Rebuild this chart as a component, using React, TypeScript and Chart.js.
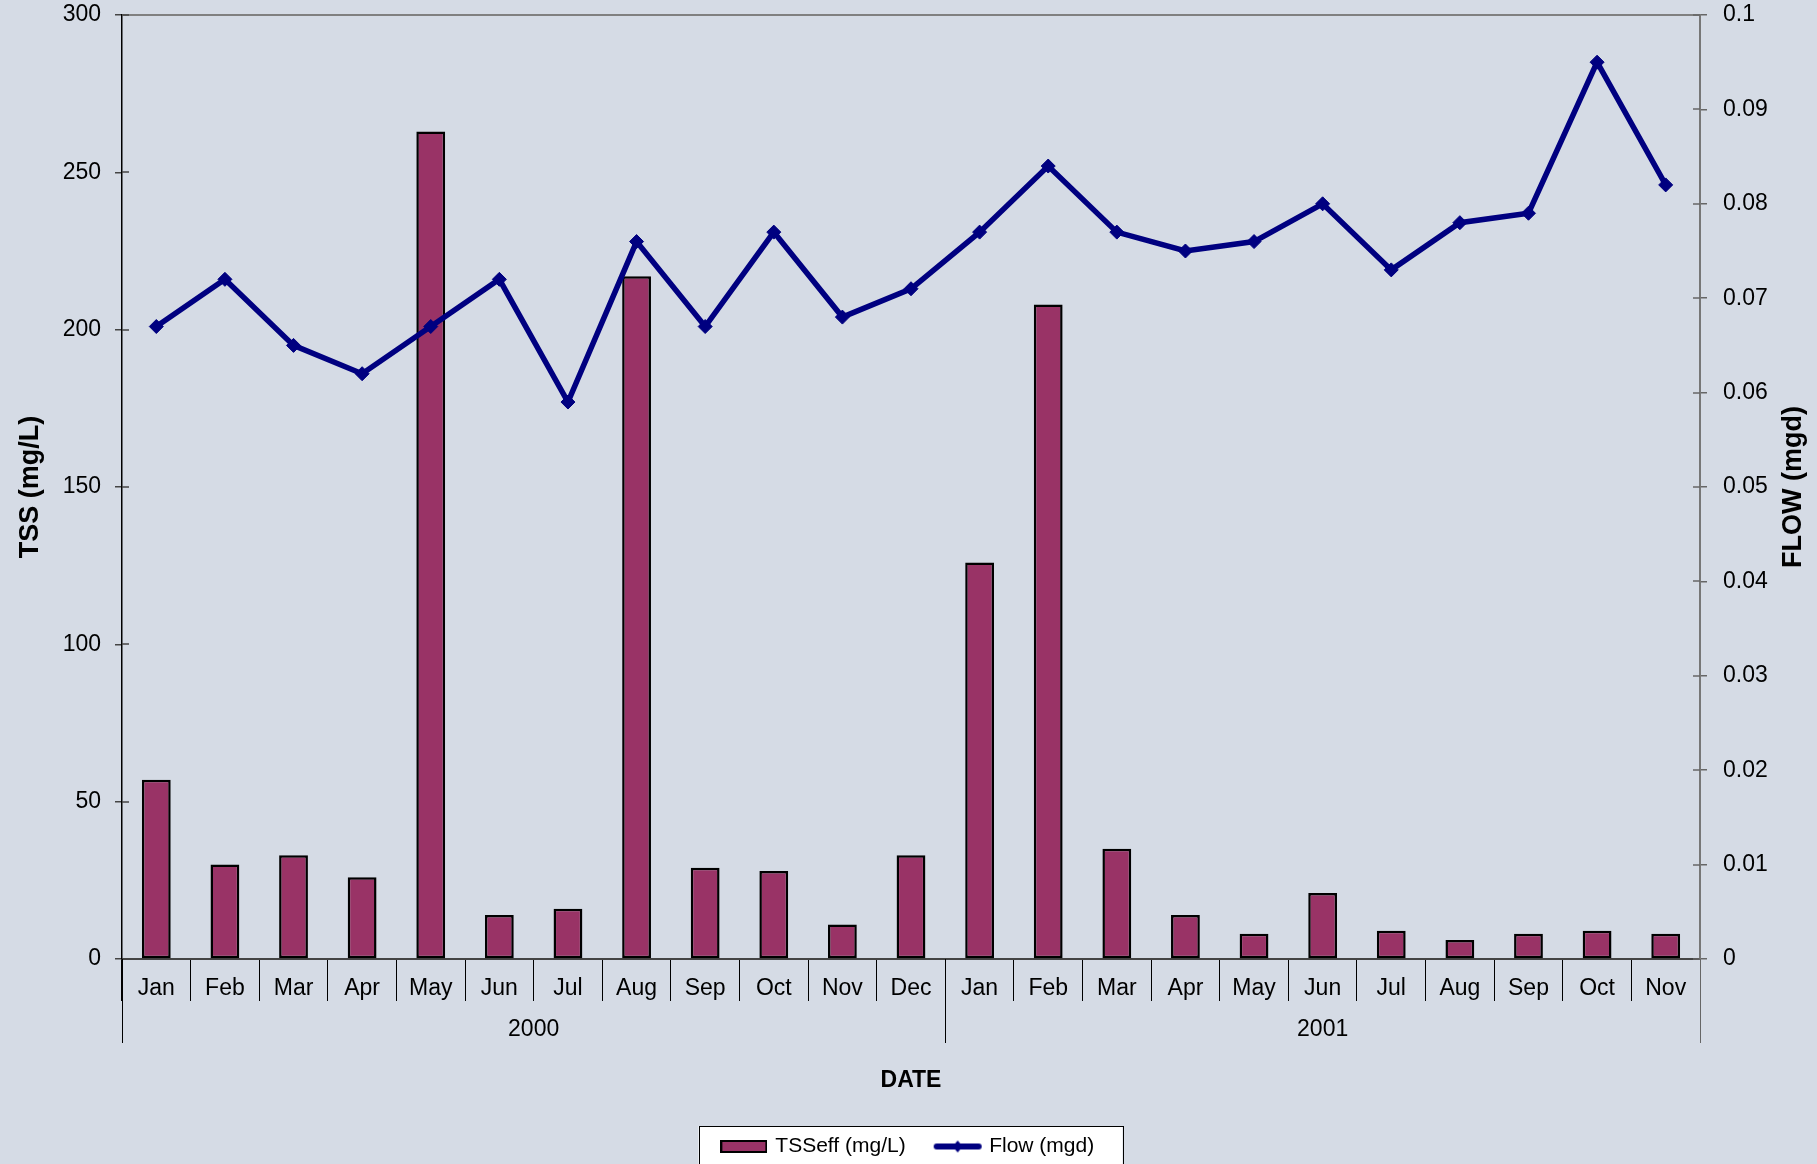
import React, { useEffect, useRef } from 'react';
import { Chart, registerables } from 'chart.js';

Chart.register(...registerables);

// ---- data ----
const months = ['Jan', 'Feb', 'Mar', 'Apr', 'May', 'Jun', 'Jul', 'Aug', 'Sep', 'Oct', 'Nov', 'Dec',
  'Jan', 'Feb', 'Mar', 'Apr', 'May', 'Jun', 'Jul', 'Aug', 'Sep', 'Oct', 'Nov'];
const yearLabels = ['2000', '2001'];
const yearSpans = [12, 11];
const tssEff = [57, 30, 33, 26, 263, 14, 16, 217, 29, 28, 11, 33, 126, 208, 35, 14, 8, 21, 9, 6, 8, 9, 8];
const flowMgd = [0.067, 0.072, 0.065, 0.062, 0.067, 0.072, 0.059, 0.076, 0.067, 0.077, 0.068, 0.071,
  0.077, 0.084, 0.077, 0.075, 0.076, 0.080, 0.073, 0.078, 0.079, 0.095, 0.082];
const tssLabel = 'TSSeff (mg/L)';
const flowLabel = 'Flow (mgd)';

// ---- style ----
const FONT = "'Liberation Sans', Arial, Helvetica, sans-serif";
const BG = '#D5DBE5';
const PLUM = '#993366';
const NAVY = '#000080';

function makeBarIcon() {
  const c = document.createElement('canvas');
  c.width = 47; c.height = 13;
  const g = c.getContext('2d')!;
  g.fillStyle = PLUM;
  g.fillRect(1, 1, 45, 11);
  g.strokeStyle = '#000';
  g.lineWidth = 2;
  g.strokeRect(1, 1, 45, 11);
  return c;
}

function makeLineIcon() {
  const c = document.createElement('canvas');
  c.width = 50; c.height = 16;
  const g = c.getContext('2d')!;
  g.strokeStyle = NAVY;
  g.lineWidth = 6;
  g.lineCap = 'round';
  g.beginPath();
  g.moveTo(4, 8); g.lineTo(46, 8); g.stroke();
  g.fillStyle = NAVY;
  g.beginPath();
  g.moveTo(25, 2); g.lineTo(30, 8); g.lineTo(25, 14); g.lineTo(20, 8); g.closePath(); g.fill();
  return c;
}

const decorPlugin = {
  id: 'decor',
  beforeDraw(chart: any) {
    const { ctx, width, height } = chart;
    ctx.save();
    ctx.fillStyle = BG;
    ctx.fillRect(0, 0, width, height);
    const lg = chart.legend;
    if (lg && lg.legendHitBoxes && lg.legendHitBoxes.length) {
      const hb = lg.legendHitBoxes;
      const l = hb[0].left;
      const r = hb[hb.length - 1].left + hb[hb.length - 1].width;
      const cx = (l + r) / 2 + 2;
      const w = 424;
      const top = hb[0].top - 10;
      ctx.fillStyle = '#FFFFFF';
      ctx.fillRect(cx - w / 2, top, w, 80);
      ctx.strokeStyle = '#000';
      ctx.lineWidth = 1;
      ctx.strokeRect(Math.round(cx - w / 2) + 0.5, Math.round(top) + 0.5, w, 80);
    }
    ctx.restore();
  },
  afterDraw(chart: any) {
    const { ctx, chartArea } = chart;
    const xs = chart.scales.x;
    const ys = chart.scales.y;
    const y1 = chart.scales.y1;
    ctx.save();
    // top border of plot area
    ctx.strokeStyle = '#808080';
    ctx.lineWidth = 2;
    ctx.beginPath();
    ctx.moveTo(chartArea.left, chartArea.top);
    ctx.lineTo(chartArea.right, chartArea.top);
    ctx.stroke();
    // inner halves of the y tick marks
    ctx.lineWidth = 1.5;
    ctx.strokeStyle = '#444';
    ys.ticks.forEach((t: any) => {
      const py = Math.round(ys.getPixelForValue(t.value));
      ctx.beginPath();
      ctx.moveTo(chartArea.left, py);
      ctx.lineTo(chartArea.left + 7, py);
      ctx.stroke();
    });
    ctx.strokeStyle = '#666';
    y1.ticks.forEach((t: any) => {
      const py = Math.round(y1.getPixelForValue(t.value));
      ctx.beginPath();
      ctx.moveTo(chartArea.right - 7, py);
      ctx.lineTo(chartArea.right, py);
      ctx.stroke();
    });
    // year group separators and labels
    const half = (xs.getPixelForValue(1) - xs.getPixelForValue(0)) / 2;
    let start = 0;
    const bounds: number[] = [chartArea.left];
    ctx.fillStyle = '#000';
    ctx.font = `23px ${FONT}`;
    ctx.textAlign = 'center';
    ctx.textBaseline = 'middle';
    yearLabels.forEach((lab, i) => {
      const end = start + yearSpans[i] - 1;
      const cx = (xs.getPixelForValue(start) + xs.getPixelForValue(end)) / 2;
      ctx.fillText(lab, cx, chartArea.bottom + 71);
      bounds.push(xs.getPixelForValue(end) + half);
      start = end + 1;
    });
    ctx.lineWidth = 1;
    bounds.forEach((bx, i) => {
      ctx.strokeStyle = i === bounds.length - 1 ? '#666' : '#000';
      const px = Math.round(bx) + 0.5;
      ctx.beginPath();
      ctx.moveTo(px, chartArea.bottom);
      ctx.lineTo(px, chartArea.bottom + 84);
      ctx.stroke();
    });
    // right axis title (reads bottom to top)
    ctx.translate(1794, (chartArea.top + chartArea.bottom) / 2);
    ctx.rotate(-Math.PI / 2);
    ctx.font = `bold 27px ${FONT}`;
    ctx.fillText('FLOW (mgd)', 0, 0);
    ctx.restore();
  },
};

export default function App() {
  const ref = useRef<HTMLCanvasElement | null>(null);

  useEffect(() => {
    document.body.style.margin = '0';
    document.body.style.overflow = 'hidden';
    document.body.style.background = BG;
    const canvas = ref.current;
    if (!canvas) return;
    const barIcon = makeBarIcon();
    const lineIcon = makeLineIcon();

    const chart = new Chart(canvas, {
      type: 'bar',
      data: {
        labels: months,
        datasets: [
          {
            type: 'line',
            label: flowLabel,
            data: flowMgd,
            yAxisID: 'y1',
            borderColor: NAVY,
            backgroundColor: NAVY,
            borderWidth: 5.5,
            pointStyle: 'rectRot',
            pointRadius: 7,
            pointBackgroundColor: NAVY,
            pointBorderColor: NAVY,
            pointBorderWidth: 1,
            tension: 0,
            order: 0,
          } as any,
          {
            type: 'bar',
            label: tssLabel,
            data: tssEff,
            yAxisID: 'y',
            backgroundColor: PLUM,
            borderColor: '#000',
            borderWidth: 2.5,
            borderSkipped: false,
            barPercentage: 0.42,
            categoryPercentage: 1,
            order: 1,
          } as any,
        ],
      },
      options: {
        animation: false,
        responsive: true,
        maintainAspectRatio: false,
        devicePixelRatio: 1,
        events: [],
        layout: { padding: { top: 15, left: 0, right: 0, bottom: 0 } },
        plugins: {
          tooltip: { enabled: false },
          title: { display: false },
          legend: {
            display: true,
            position: 'bottom',
            labels: {
              usePointStyle: true,
              pointStyleWidth: 42,
              padding: 31,
              color: '#000',
              font: { size: 21, family: FONT },
              generateLabels: () => [
                { text: tssLabel, pointStyle: barIcon, fillStyle: PLUM, strokeStyle: '#000', lineWidth: 0, hidden: false, datasetIndex: 1, fontColor: '#000' } as any,
                { text: flowLabel, pointStyle: lineIcon, fillStyle: NAVY, strokeStyle: NAVY, lineWidth: 0, hidden: false, datasetIndex: 0, fontColor: '#000' } as any,
              ],
            },
          },
        },
        scales: {
          x: {
            type: 'category',
            offset: true,
            grid: {
              display: true,
              offset: true,
              drawOnChartArea: false,
              drawTicks: true,
              tickLength: 42,
              color: '#000',
              lineWidth: 1,
            },
            border: { display: true, color: '#444', width: 2 },
            ticks: {
              font: { size: 23, family: FONT },
              color: '#000',
              padding: -26,
              maxRotation: 0,
              autoSkip: false,
            },
            title: {
              display: true,
              text: 'DATE',
              color: '#000',
              font: { size: 23, weight: 'bold', family: FONT },
              padding: { top: 0, bottom: 11 },
            },
            afterFit: (s: any) => { s.height = 146; s.paddingLeft = 0; s.paddingRight = 0; },
          },
          y: {
            type: 'linear',
            position: 'left',
            min: 0,
            max: 300,
            ticks: {
              stepSize: 50,
              color: '#000',
              padding: 14,
              font: { size: 23, family: FONT },
            },
            grid: { drawOnChartArea: false, drawTicks: true, tickLength: 7, color: '#444', lineWidth: 1.5 },
            border: { display: true, color: '#000', width: 1.5 },
            title: {
              display: true,
              text: 'TSS (mg/L)',
              color: '#000',
              font: { size: 27, weight: 'bold', family: FONT },
              padding: { top: 14, bottom: 0 },
            },
            afterFit: (s: any) => { s.width = 122; s.paddingTop = 0; s.paddingBottom = 0; },
          },
          y1: {
            type: 'linear',
            position: 'right',
            min: 0,
            max: 0.1,
            ticks: {
              stepSize: 0.01,
              color: '#000',
              padding: 16,
              font: { size: 23, family: FONT },
              callback: (v: any) => String(Number(Number(v).toFixed(2))),
            },
            grid: { drawOnChartArea: false, drawTicks: true, tickLength: 7, color: '#666', lineWidth: 1.5 },
            border: { display: true, color: '#777', width: 2 },
            title: { display: false },
            afterFit: (s: any) => { s.width = 117; s.paddingTop = 0; s.paddingBottom = 0; },
          },
        },
      },
      plugins: [decorPlugin],
    });

    return () => chart.destroy();
  }, []);

  return (
    <div style={{ position: 'fixed', left: 0, top: 0, width: '1817px', height: '1167px', background: BG }}>
      <canvas ref={ref} />
    </div>
  );
}
